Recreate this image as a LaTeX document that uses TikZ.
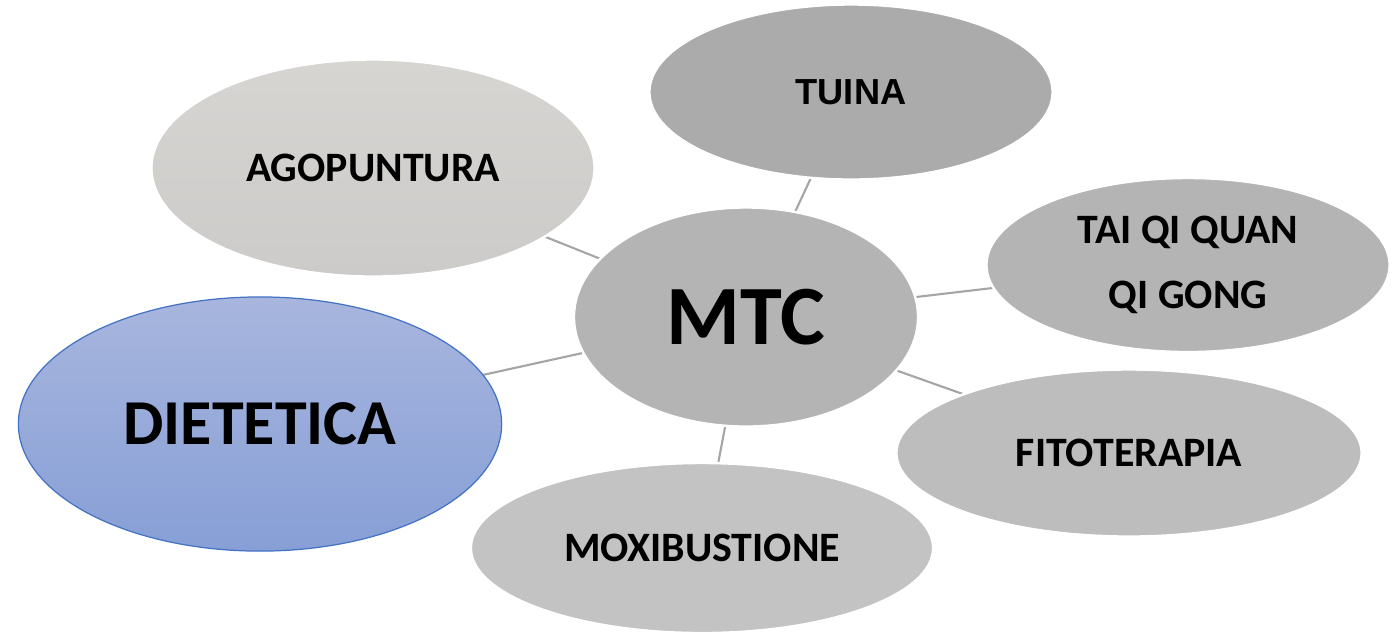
\documentclass[tikz,border=0pt]{standalone}
\usepackage{fontspec}
\setmainfont{Carlito}
\newfontfamily\arialfont{Liberation Sans}
\usepackage{tikz}
\usetikzlibrary{shapes.geometric}
\usetikzlibrary{backgrounds}

\definecolor{linegray}{RGB}{165,165,165}
\definecolor{blueedge}{RGB}{68,114,196}

\begin{document}
\begin{tikzpicture}
	[x=0.01cm,y=-0.01cm,
	 bubble/.style={ellipse,draw=white,line width=0.7pt,inner sep=0pt,align=center,
	   font=\bfseries\fontsize{11.9}{18.5}\selectfont},
	 link/.style={draw=linegray,line width=0.6pt}]
	\useasboundingbox (0,0) rectangle (1392,632);
	% centre
	\node[bubble,fill={rgb,255:red,180;green,180;blue,180},minimum width=3.44cm,minimum height=2.19cm,
	  font=\bfseries\fontsize{24}{26}\selectfont] (mtc) at (746,317) {MTC};
	% satellites
	\node[bubble,fill={rgb,255:red,171;green,171;blue,171},minimum width=4.03cm,minimum height=1.75cm,
	  font=\arialfont\bfseries\fontsize{10.3}{12}\selectfont] (tuina) at (851,92) {TUINA};
	\node[bubble,top color={rgb,255:red,214;green,213;blue,210},bottom color={rgb,255:red,204;green,203;blue,201},
	  minimum width=4.43cm,minimum height=2.17cm] (agop) at (373,168) {AGOPUNTURA};
	\node[bubble,fill={rgb,255:red,180;green,180;blue,180},minimum width=4.03cm,minimum height=1.74cm] (taiqi) at (1188,265) {TAI QI QUAN\\QI GONG};
	\node[bubble,draw=blueedge,line width=0.35pt,top color={rgb,255:red,168;green,182;blue,222},bottom color={rgb,255:red,135;green,159;blue,214},
	  minimum width=4.83cm,minimum height=2.54cm,font=\bfseries\fontsize{18.2}{20}\selectfont] (diet) at (260,424) {DIETETICA};
	\node[bubble,fill={rgb,255:red,189;green,189;blue,189},minimum width=4.65cm,minimum height=1.67cm] (fito) at (1129,453) {FITOTERAPIA};
	\node[bubble,fill={rgb,255:red,195;green,195;blue,195},minimum width=4.62cm,minimum height=1.70cm] (moxi) at (702,548) {MOXIBUSTIONE};
	% links behind the bubbles
	\begin{scope}[on background layer]
		\fill[white] (0,0) rectangle (1392,632);
		\foreach \n in {tuina,agop,taiqi,diet,fito,moxi}
			\draw[link] (mtc.center) -- (\n.center);
	\end{scope}
\end{tikzpicture}
\end{document}
